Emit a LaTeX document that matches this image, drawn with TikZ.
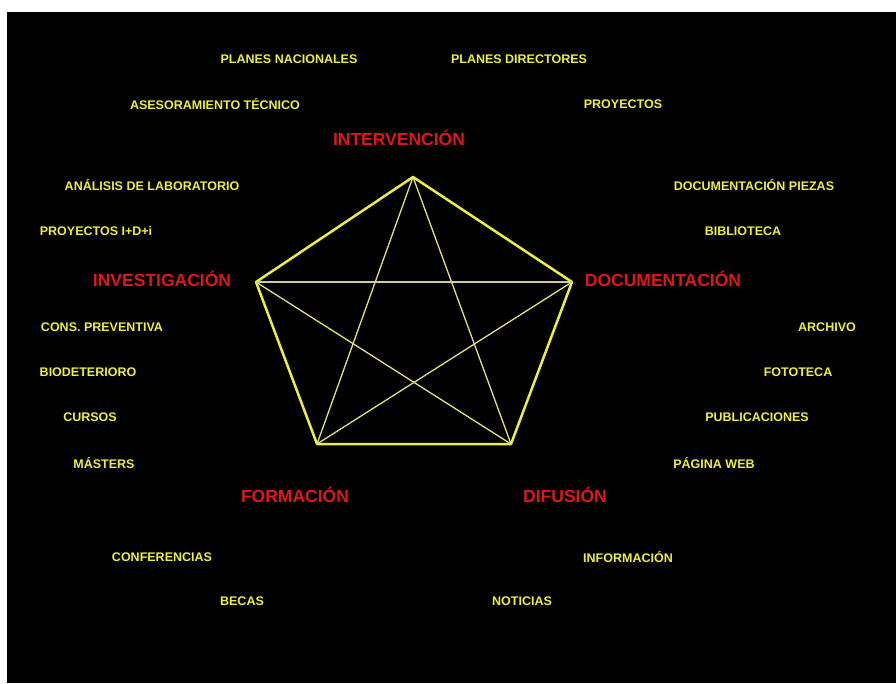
\documentclass[tikz,border=0pt]{standalone}
\usepackage{fontspec}
\setmainfont{Liberation Sans}
\definecolor{amarillo}{RGB}{238,238,64}
\definecolor{rojo}{RGB}{222,24,24}
\definecolor{estrella}{RGB}{226,226,120}
\definecolor{horiz}{RGB}{205,205,160}
\tikzset{
  sub/.style={text=amarillo, font=\fontsize{12.5}{13}\selectfont\bfseries, inner sep=0pt},
  area/.style={text=rojo, font=\fontsize{17.5}{18}\selectfont\bfseries, inner sep=0pt},
  lado/.style={draw=amarillo, line width=2.5pt, line join=round},
  punta/.style={draw=estrella, line width=1.3pt}
}

\begin{document}
\begin{tikzpicture}[x=1pt, y=-1pt]
        \fill[white] (0,0) rectangle (896,683);
        \fill[black] (7,12) rectangle (896,683);
        % vertices del pentagono
        \coordinate (I) at (413,177);
        \coordinate (D) at (572,282);
        \coordinate (F) at (511,444);
        \coordinate (B) at (317,444);
        \coordinate (N) at (256,282);
        \draw[lado] (I) -- (D) -- (F) -- (B) -- (N) -- cycle;
        \draw[punta] (I) -- (B);
        \draw[punta] (I) -- (F);
        \draw[punta] (N) -- (F);
        \draw[punta] (D) -- (B);
        \draw[draw=horiz, line width=1.3pt] (N) -- (D);
        % areas
        \node[area] (intervencion) at (399,138) {INTERVENCIÓN};
        \node[area] (investigacion) at (162,279) {INVESTIGACIÓN};
        \node[area] (documentacion) at (663,279) {DOCUMENTACIÓN};
        \node[area] (formacion) at (295,495) {FORMACIÓN};
        \node[area] (difusion) at (565,495) {DIFUSIÓN};
        % intervencion
        \node[sub] (nacionales) at (289,59) {PLANES NACIONALES};
        \node[sub] (directores) at (519,59) {PLANES DIRECTORES};
        \node[sub] (asesoramiento) at (215,104) {ASESORAMIENTO TÉCNICO};
        \node[sub] (proyectos) at (623,104) {PROYECTOS};
        % investigacion
        \node[sub] (analisis) at (152,185) {ANÁLISIS DE LABORATORIO};
        \node[sub] (idi) at (96,231) {PROYECTOS I+D+i};
        \node[sub] (preventiva) at (102,327) {CONS. PREVENTIVA};
        \node[sub] (biodeterioro) at (88,372) {BIODETERIORO};
        % documentacion
        \node[sub] (piezas) at (754,185) {DOCUMENTACIÓN PIEZAS};
        \node[sub] (biblioteca) at (743,231) {BIBLIOTECA};
        \node[sub] (archivo) at (827,327) {ARCHIVO};
        \node[sub] (fototeca) at (798,372) {FOTOTECA};
        % formacion
        \node[sub] (cursos) at (90,417) {CURSOS};
        \node[sub] (masters) at (104,463) {MÁSTERS};
        \node[sub] (conferencias) at (162,557) {CONFERENCIAS};
        \node[sub] (becas) at (242,601) {BECAS};
        % difusion
        \node[sub] (publicaciones) at (757,417) {PUBLICACIONES};
        \node[sub] (web) at (714,463) {PÁGINA WEB};
        \node[sub] (informacion) at (628,557) {INFORMACIÓN};
        \node[sub] (noticias) at (522,601) {NOTICIAS};
    \end{tikzpicture}
\end{document}
